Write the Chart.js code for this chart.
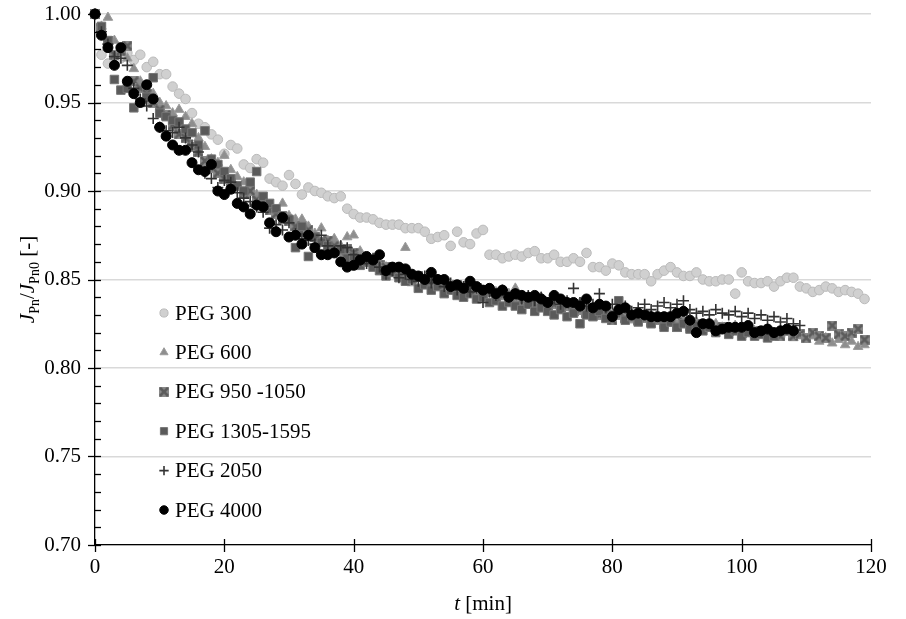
<!DOCTYPE html>
<html>
<head>
<meta charset="utf-8">
<script src="https://cdn.jsdelivr.net/npm/chart.js"></script>
<style>
  body { margin: 0; background: #fff; }
  #wrap { width: 906px; height: 619px; }
</style>
</head>
<body>
<div id="wrap"><canvas id="chart" width="906" height="619"></canvas></div>
<script>
// time axis [min], one reading per minute
const minutes = [0,1,2,3,4,5,6,7,8,9,10,11,12,13,14,15,16,17,18,19,20,21,22,23,24,25,26,27,28,29,
  30,31,32,33,34,35,36,37,38,39,40,41,42,43,44,45,46,47,48,49,50,51,52,53,54,55,56,57,58,59,
  60,61,62,63,64,65,66,67,68,69,70,71,72,73,74,75,76,77,78,79,80,81,82,83,84,85,86,87,88,89,
  90,91,92,93,94,95,96,97,98,99,100,101,102,103,104,105,106,107,108,109,110,111,112,113,114,115,116,117,118,119];

// J_Pn / J_Pn0 readings
const peg300 = [1.000,0.977,0.972,0.972,0.975,0.978,0.974,0.977,0.970,0.973,0.966,0.966,0.959,0.955,0.952,0.944,0.938,0.936,0.932,0.929,
  0.921,0.926,0.924,0.915,0.913,0.918,0.916,0.907,0.905,0.903,0.909,0.904,0.898,0.902,0.900,0.899,0.897,0.896,0.897,0.890,
  0.887,0.885,0.885,0.884,0.882,0.881,0.881,0.881,0.879,0.879,0.879,0.877,0.873,0.874,0.875,0.869,0.877,0.871,0.870,0.876,
  0.878,0.864,0.864,0.862,0.863,0.864,0.863,0.865,0.866,0.862,0.862,0.864,0.860,0.860,0.862,0.860,0.865,0.857,0.857,0.855,
  0.859,0.858,0.854,0.853,0.853,0.853,0.849,0.853,0.855,0.857,0.854,0.852,0.852,0.854,0.850,0.849,0.849,0.850,0.850,0.842,
  0.854,0.849,0.848,0.848,0.849,0.846,0.849,0.851,0.851,0.846,0.845,0.843,0.844,0.846,0.845,0.843,0.844,0.843,0.842,0.839];

const peg600 = [1.000,0.993,0.998,0.985,0.978,0.975,0.969,0.962,0.958,0.955,0.950,0.948,0.944,0.946,0.942,0.938,0.930,0.925,0.918,0.916,
  0.920,0.912,0.908,0.905,0.901,0.898,0.896,0.892,0.889,0.893,0.886,0.884,0.884,0.880,0.876,0.879,0.872,0.873,0.869,0.874,
  0.875,0.866,0.862,0.861,0.859,0.857,0.856,0.855,0.868,0.848,0.851,0.850,0.849,0.846,0.847,0.845,0.844,0.846,0.845,0.843,
  0.842,0.844,0.843,0.840,0.842,0.845,0.841,0.839,0.838,0.840,0.836,0.835,0.838,0.834,0.833,0.837,0.832,0.831,0.835,0.830,
  0.829,0.831,0.834,0.827,0.828,0.830,0.827,0.829,0.826,0.828,0.825,0.827,0.824,0.826,0.822,0.824,0.825,0.823,0.821,0.824,
  0.822,0.820,0.821,0.819,0.822,0.818,0.819,0.820,0.817,0.818,0.816,0.818,0.815,0.817,0.814,0.816,0.813,0.815,0.812,0.813];

const peg950 = [1.000,0.992,0.985,0.977,0.979,0.982,0.962,0.958,0.955,0.950,0.946,0.943,0.937,0.932,0.930,0.925,0.922,0.917,0.913,0.910,
  0.907,0.905,0.903,0.899,0.900,0.895,0.893,0.889,0.887,0.884,0.883,0.880,0.877,0.878,0.874,0.871,0.872,0.869,0.866,0.867,
  0.865,0.862,0.860,0.861,0.858,0.857,0.855,0.856,0.853,0.851,0.852,0.849,0.848,0.850,0.847,0.846,0.847,0.844,0.843,0.845,
  0.842,0.843,0.840,0.841,0.839,0.840,0.838,0.839,0.836,0.837,0.835,0.836,0.834,0.835,0.832,0.833,0.831,0.833,0.830,0.831,
  0.827,0.830,0.828,0.829,0.827,0.828,0.826,0.827,0.825,0.826,0.823,0.826,0.824,0.825,0.823,0.824,0.822,0.823,0.821,0.822,
  0.820,0.822,0.820,0.821,0.819,0.820,0.818,0.821,0.818,0.819,0.817,0.820,0.818,0.817,0.824,0.819,0.818,0.820,0.822,0.816];

const peg1305 = [1.000,0.993,0.985,0.963,0.957,0.958,0.947,0.950,0.953,0.964,0.944,0.942,0.940,0.939,0.935,0.933,0.926,0.934,0.918,0.915,
  0.911,0.907,0.903,0.900,0.905,0.911,0.897,0.893,0.890,0.886,0.884,0.868,0.880,0.863,0.874,0.871,0.869,0.866,0.867,0.862,
  0.863,0.858,0.860,0.857,0.855,0.852,0.854,0.851,0.849,0.850,0.845,0.847,0.844,0.846,0.842,0.844,0.841,0.840,0.842,0.839,
  0.840,0.837,0.838,0.835,0.837,0.835,0.833,0.836,0.832,0.834,0.832,0.830,0.833,0.829,0.831,0.825,0.830,0.829,0.832,0.828,
  0.830,0.838,0.827,0.829,0.826,0.830,0.825,0.828,0.823,0.826,0.823,0.825,0.822,0.824,0.821,0.823,0.820,0.822,0.819,0.821,
  0.818,0.820,0.818,0.819,0.817,0.818];

const peg2050 = [1.000,0.990,0.983,0.976,0.975,0.971,0.958,0.952,0.948,0.941,0.936,0.934,0.933,0.936,0.930,0.926,0.922,0.910,0.907,0.902,
  0.906,0.905,0.899,0.896,0.894,0.891,0.888,0.879,0.881,0.878,0.882,0.876,0.873,0.872,0.870,0.875,0.869,0.866,0.869,0.868,
  0.864,0.861,0.859,0.862,0.857,0.853,0.855,0.851,0.853,0.850,0.849,0.852,0.848,0.850,0.846,0.848,0.844,0.846,0.843,0.845,
  0.837,0.843,0.841,0.844,0.840,0.842,0.839,0.841,0.838,0.840,0.837,0.839,0.836,0.838,0.845,0.837,0.835,0.836,0.842,0.834,
  0.836,0.833,0.835,0.832,0.834,0.836,0.833,0.835,0.837,0.834,0.836,0.838,0.833,0.831,0.832,0.830,0.833,0.831,0.830,0.832,
  0.829,0.831,0.828,0.830,0.827,0.829,0.826,0.828,0.825,0.824];

const peg4000 = [1.000,0.988,0.981,0.971,0.981,0.962,0.955,0.950,0.960,0.952,0.936,0.931,0.926,0.923,0.923,0.916,0.912,0.911,0.915,0.900,
  0.898,0.901,0.893,0.891,0.887,0.892,0.891,0.882,0.877,0.885,0.874,0.875,0.870,0.875,0.868,0.864,0.864,0.865,0.860,0.857,
  0.858,0.861,0.863,0.861,0.864,0.855,0.857,0.857,0.856,0.853,0.852,0.850,0.854,0.850,0.850,0.846,0.847,0.845,0.849,0.846,
  0.844,0.845,0.842,0.844,0.840,0.842,0.841,0.840,0.841,0.839,0.837,0.841,0.839,0.837,0.837,0.835,0.839,0.834,0.836,0.835,
  0.829,0.833,0.834,0.830,0.831,0.830,0.829,0.829,0.829,0.829,0.831,0.832,0.827,0.820,0.825,0.825,0.821,0.822,0.823,0.823,
  0.823,0.824,0.820,0.821,0.822,0.820,0.821,0.822,0.821];

const seriesNames = ['PEG 300', 'PEG 600', 'PEG 950 -1050', 'PEG 1305-1595', 'PEG 2050', 'PEG 4000'];
const xTicks = [0, 20, 40, 60, 80, 100, 120];
const yTicks = [0.70, 0.75, 0.80, 0.85, 0.90, 0.95, 1.00];

const FONT = '"Liberation Serif", "Times New Roman", serif';

// square with an x drawn over it (PEG 950 -1050 marker)
function crossSquare() {
  const c = document.createElement('canvas');
  c.width = 10; c.height = 10;
  const g = c.getContext('2d');
  g.fillStyle = '#8a8a8a';
  g.fillRect(0, 0, 10, 10);
  g.strokeStyle = '#5c5c5c';
  g.lineWidth = 2.6;
  g.beginPath();
  g.moveTo(1, 1); g.lineTo(9, 9);
  g.moveTo(9, 1); g.lineTo(1, 9);
  g.stroke();
  return c;
}
const xMark = crossSquare();

function pts(vals) {
  return vals.map((v, i) => ({ x: minutes[i], y: v }));
}

const datasets = [
  { label: seriesNames[0], data: pts(peg300), pointStyle: 'circle', pointRadius: 4.8,
    backgroundColor: '#d0d0d0', borderColor: '#bababa', borderWidth: 1, order: 5 },
  { label: seriesNames[1], data: pts(peg600), pointStyle: 'triangle', pointRadius: 5.5,
    backgroundColor: '#8e8e8e', borderColor: '#9c9c9c', borderWidth: 1, order: 4 },
  { label: seriesNames[2], data: pts(peg950), pointStyle: xMark, pointRadius: 5,
    backgroundColor: '#7a7a7a', borderColor: '#7a7a7a', borderWidth: 1, order: 3 },
  { label: seriesNames[3], data: pts(peg1305), pointStyle: 'rect', pointRadius: 6,
    backgroundColor: '#5a5a5a', borderColor: '#767676', borderWidth: 1, order: 2 },
  { label: seriesNames[4], data: pts(peg2050), pointStyle: 'cross', pointRadius: 5.5,
    backgroundColor: '#333', borderColor: '#333', borderWidth: 1.6, order: 1 },
  { label: seriesNames[5], data: pts(peg4000), pointStyle: 'circle', pointRadius: 5,
    backgroundColor: '#000', borderColor: '#000', borderWidth: 1, order: 0 }
];
datasets.forEach(d => { d.clip = false; d.showLine = false; });

// ticks, axis titles and legend drawn by hand
const decor = {
  id: 'decor',
  afterDraw(chart) {
    const ctx = chart.ctx;
    const x = chart.scales.x, y = chart.scales.y;
    const a = chart.chartArea;
    ctx.save();
    ctx.strokeStyle = '#000';
    ctx.lineWidth = 1.3;
    // y ticks: majors cross the axis, minors inside
    for (let k = 70; k <= 100; k++) {
      const py = Math.round(y.getPixelForValue(k / 100)) + 0.5;
      ctx.beginPath();
      if (k % 5 === 0) { ctx.moveTo(a.left - 7, py); ctx.lineTo(a.left + 6, py); }
      else { ctx.moveTo(a.left, py); ctx.lineTo(a.left + 6, py); }
      ctx.stroke();
    }
    // x ticks
    xTicks.forEach(t => {
      const px = Math.round(x.getPixelForValue(t)) + 0.5;
      ctx.beginPath();
      ctx.moveTo(px, a.bottom - 6); ctx.lineTo(px, a.bottom + 7);
      ctx.stroke();
    });

    ctx.fillStyle = '#000';
    ctx.textBaseline = 'alphabetic';
    // x title
    const big = 21, small = 14;
    ctx.font = 'italic ' + big + 'px ' + FONT;
    const w1 = ctx.measureText('t').width;
    ctx.font = big + 'px ' + FONT;
    const w2 = ctx.measureText(' [min]').width;
    let sx = (a.left + a.right) / 2 - (w1 + w2) / 2;
    const by = 610;
    ctx.font = 'italic ' + big + 'px ' + FONT;
    ctx.fillText('t', sx, by);
    ctx.font = big + 'px ' + FONT;
    ctx.fillText(' [min]', sx + w1, by);

    // y title, rotated
    const parts = [
      ['J', 'italic ' + big + 'px ' + FONT, 0],
      ['Pn', small + 'px ' + FONT, 5],
      ['/', big + 'px ' + FONT, 0],
      ['J', 'italic ' + big + 'px ' + FONT, 0],
      ['Pn0', small + 'px ' + FONT, 5],
      [' [-]', big + 'px ' + FONT, 0]
    ];
    let total = 0;
    parts.forEach(p => { ctx.font = p[1]; p.push(ctx.measureText(p[0]).width); total += p[3]; });
    ctx.save();
    ctx.translate(34, (a.top + a.bottom) / 2);
    ctx.rotate(-Math.PI / 2);
    let cx = -total / 2;
    parts.forEach(p => {
      ctx.font = p[1];
      ctx.fillText(p[0], cx, p[2]);
      cx += p[3];
    });
    ctx.restore();

    // legend inside the plot
    ctx.font = big + 'px ' + FONT;
    ctx.textBaseline = 'middle';
    chart.data.datasets.forEach((d, i) => {
      const ly = 313 + i * 39.4;
      ctx.save();
      ctx.fillStyle = d.backgroundColor;
      ctx.strokeStyle = d.borderColor;
      ctx.lineWidth = d.borderWidth;
      Chart.helpers.drawPoint(ctx, { pointStyle: d.pointStyle, radius: d.pointRadius * 0.85, rotation: 0, borderWidth: d.borderWidth }, 164, ly);
      ctx.restore();
      ctx.fillStyle = '#000';
      ctx.fillText(d.label, 175, ly + 1);
    });
    ctx.restore();
  }
};

new Chart(document.getElementById('chart'), {
  type: 'scatter',
  data: { datasets: datasets },
  options: {
    responsive: false,
    animation: false,
    layout: { padding: { top: 14, right: 35, left: 0, bottom: 0 } },
    plugins: { legend: { display: false }, tooltip: { enabled: false } },
    scales: {
      x: {
        type: 'linear', min: 0, max: 120,
        afterFit: s => { s.height = 74; s.paddingLeft = 0; s.paddingRight = 0; },
        afterBuildTicks: s => { s.ticks = xTicks.map(v => ({ value: v })); },
        ticks: { color: '#000', padding: 10, font: { family: FONT, size: 21 }, maxRotation: 0 },
        grid: { display: false, drawTicks: false },
        border: { color: '#000', width: 1.3 }
      },
      y: {
        min: 0.70, max: 1.00,
        afterFit: s => { s.width = 95; s.paddingTop = 0; s.paddingBottom = 0; },
        afterBuildTicks: s => { s.ticks = yTicks.map(v => ({ value: v })); },
        ticks: { color: '#000', padding: 14, font: { family: FONT, size: 21 }, callback: v => v.toFixed(2) },
        grid: { color: '#d9d9d9', lineWidth: 1.5, drawTicks: false },
        border: { color: '#000', width: 1.3 }
      }
    }
  },
  plugins: [decor]
});
</script>
</body>
</html>
